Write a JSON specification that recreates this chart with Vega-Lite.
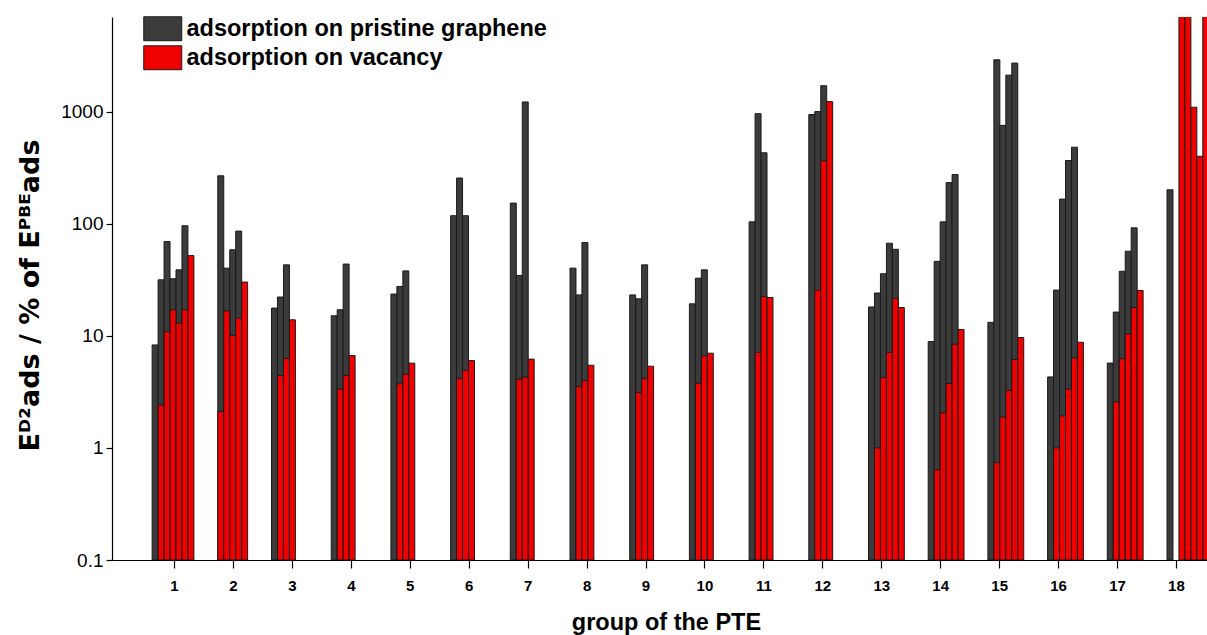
{
  "$schema": "https://vega.github.io/schema/vega-lite/v6.json",
  "width": 1095,
  "height": 543,
  "autosize": {"type": "none"},
  "padding": {"left": 112, "top": 17, "right": 0, "bottom": 75},
  "background": "white",
  "config": {"view": {"stroke": null}, "font": "Liberation Sans"},
  "data": {"values": [
    {"group": 1, "slot": 0, "series": "pristine", "value": 8.3},
    {"group": 1, "slot": 1, "series": "pristine", "value": 31.6},
    {"group": 1, "slot": 2, "series": "pristine", "value": 69.5},
    {"group": 1, "slot": 3, "series": "pristine", "value": 32.3},
    {"group": 1, "slot": 4, "series": "pristine", "value": 38.8},
    {"group": 1, "slot": 5, "series": "pristine", "value": 96},
    {"group": 1, "slot": 1, "series": "vacancy", "value": 2.42},
    {"group": 1, "slot": 2, "series": "vacancy", "value": 10.9},
    {"group": 1, "slot": 3, "series": "vacancy", "value": 17.1},
    {"group": 1, "slot": 4, "series": "vacancy", "value": 13.0},
    {"group": 1, "slot": 5, "series": "vacancy", "value": 17.1},
    {"group": 1, "slot": 6, "series": "vacancy", "value": 52},
    {"group": 2, "slot": 1, "series": "pristine", "value": 268},
    {"group": 2, "slot": 2, "series": "pristine", "value": 40.2},
    {"group": 2, "slot": 3, "series": "pristine", "value": 58.6},
    {"group": 2, "slot": 4, "series": "pristine", "value": 86},
    {"group": 2, "slot": 1, "series": "vacancy", "value": 2.11},
    {"group": 2, "slot": 2, "series": "vacancy", "value": 16.7},
    {"group": 2, "slot": 3, "series": "vacancy", "value": 10.1},
    {"group": 2, "slot": 4, "series": "vacancy", "value": 14.4},
    {"group": 2, "slot": 5, "series": "vacancy", "value": 30.2},
    {"group": 3, "slot": 0, "series": "pristine", "value": 17.7},
    {"group": 3, "slot": 1, "series": "pristine", "value": 22.2},
    {"group": 3, "slot": 2, "series": "pristine", "value": 43},
    {"group": 3, "slot": 1, "series": "vacancy", "value": 4.42},
    {"group": 3, "slot": 2, "series": "vacancy", "value": 6.3},
    {"group": 3, "slot": 3, "series": "vacancy", "value": 13.9},
    {"group": 4, "slot": 0, "series": "pristine", "value": 15.1},
    {"group": 4, "slot": 1, "series": "pristine", "value": 17.1},
    {"group": 4, "slot": 2, "series": "pristine", "value": 43.7},
    {"group": 4, "slot": 1, "series": "vacancy", "value": 3.36},
    {"group": 4, "slot": 2, "series": "vacancy", "value": 4.42},
    {"group": 4, "slot": 3, "series": "vacancy", "value": 6.67},
    {"group": 5, "slot": 0, "series": "pristine", "value": 23.6},
    {"group": 5, "slot": 1, "series": "pristine", "value": 27.6},
    {"group": 5, "slot": 2, "series": "pristine", "value": 38.0},
    {"group": 5, "slot": 1, "series": "vacancy", "value": 3.73},
    {"group": 5, "slot": 2, "series": "vacancy", "value": 4.55},
    {"group": 5, "slot": 3, "series": "vacancy", "value": 5.71},
    {"group": 6, "slot": 0, "series": "pristine", "value": 118},
    {"group": 6, "slot": 1, "series": "pristine", "value": 256},
    {"group": 6, "slot": 2, "series": "pristine", "value": 118},
    {"group": 6, "slot": 1, "series": "vacancy", "value": 4.16},
    {"group": 6, "slot": 2, "series": "vacancy", "value": 4.94},
    {"group": 6, "slot": 3, "series": "vacancy", "value": 6.02},
    {"group": 7, "slot": 0, "series": "pristine", "value": 153},
    {"group": 7, "slot": 1, "series": "pristine", "value": 34.6},
    {"group": 7, "slot": 2, "series": "pristine", "value": 1222},
    {"group": 7, "slot": 1, "series": "vacancy", "value": 4.1},
    {"group": 7, "slot": 2, "series": "vacancy", "value": 4.28},
    {"group": 7, "slot": 3, "series": "vacancy", "value": 6.2},
    {"group": 8, "slot": 0, "series": "pristine", "value": 40.2},
    {"group": 8, "slot": 1, "series": "pristine", "value": 23.2},
    {"group": 8, "slot": 2, "series": "pristine", "value": 68.1},
    {"group": 8, "slot": 1, "series": "vacancy", "value": 3.53},
    {"group": 8, "slot": 2, "series": "vacancy", "value": 3.99},
    {"group": 8, "slot": 3, "series": "vacancy", "value": 5.47},
    {"group": 9, "slot": 0, "series": "pristine", "value": 23.2},
    {"group": 9, "slot": 1, "series": "pristine", "value": 21.4},
    {"group": 9, "slot": 2, "series": "pristine", "value": 43},
    {"group": 9, "slot": 1, "series": "vacancy", "value": 3.12},
    {"group": 9, "slot": 2, "series": "vacancy", "value": 4.16},
    {"group": 9, "slot": 3, "series": "vacancy", "value": 5.36},
    {"group": 10, "slot": 0, "series": "pristine", "value": 19.3},
    {"group": 10, "slot": 1, "series": "pristine", "value": 32.7},
    {"group": 10, "slot": 2, "series": "pristine", "value": 38.8},
    {"group": 10, "slot": 1, "series": "vacancy", "value": 3.78},
    {"group": 10, "slot": 2, "series": "vacancy", "value": 6.63},
    {"group": 10, "slot": 3, "series": "vacancy", "value": 7.0},
    {"group": 11, "slot": 0, "series": "pristine", "value": 104},
    {"group": 11, "slot": 1, "series": "pristine", "value": 960},
    {"group": 11, "slot": 2, "series": "pristine", "value": 430},
    {"group": 11, "slot": 1, "series": "vacancy", "value": 7.11},
    {"group": 11, "slot": 2, "series": "vacancy", "value": 22.4},
    {"group": 11, "slot": 3, "series": "vacancy", "value": 22.0},
    {"group": 12, "slot": 0, "series": "pristine", "value": 944},
    {"group": 12, "slot": 1, "series": "pristine", "value": 1003},
    {"group": 12, "slot": 2, "series": "pristine", "value": 1706},
    {"group": 12, "slot": 1, "series": "vacancy", "value": 25.6},
    {"group": 12, "slot": 2, "series": "vacancy", "value": 365},
    {"group": 12, "slot": 3, "series": "vacancy", "value": 1230},
    {"group": 13, "slot": 0, "series": "pristine", "value": 18.1},
    {"group": 13, "slot": 1, "series": "pristine", "value": 24.1},
    {"group": 13, "slot": 2, "series": "pristine", "value": 35.8},
    {"group": 13, "slot": 3, "series": "pristine", "value": 67.1},
    {"group": 13, "slot": 4, "series": "pristine", "value": 59.2},
    {"group": 13, "slot": 1, "series": "vacancy", "value": 1.0},
    {"group": 13, "slot": 2, "series": "vacancy", "value": 4.24},
    {"group": 13, "slot": 3, "series": "vacancy", "value": 7.11},
    {"group": 13, "slot": 4, "series": "vacancy", "value": 21.5},
    {"group": 13, "slot": 5, "series": "vacancy", "value": 17.9},
    {"group": 14, "slot": 0, "series": "pristine", "value": 8.9},
    {"group": 14, "slot": 1, "series": "pristine", "value": 46.2},
    {"group": 14, "slot": 2, "series": "pristine", "value": 104},
    {"group": 14, "slot": 3, "series": "pristine", "value": 233},
    {"group": 14, "slot": 4, "series": "pristine", "value": 275},
    {"group": 14, "slot": 1, "series": "vacancy", "value": 0.64},
    {"group": 14, "slot": 2, "series": "vacancy", "value": 2.06},
    {"group": 14, "slot": 3, "series": "vacancy", "value": 3.76},
    {"group": 14, "slot": 4, "series": "vacancy", "value": 8.43},
    {"group": 14, "slot": 5, "series": "vacancy", "value": 11.4},
    {"group": 15, "slot": 0, "series": "pristine", "value": 13.2},
    {"group": 15, "slot": 1, "series": "pristine", "value": 2905},
    {"group": 15, "slot": 2, "series": "pristine", "value": 755},
    {"group": 15, "slot": 3, "series": "pristine", "value": 2120},
    {"group": 15, "slot": 4, "series": "pristine", "value": 2716},
    {"group": 15, "slot": 1, "series": "vacancy", "value": 0.74},
    {"group": 15, "slot": 2, "series": "vacancy", "value": 1.89},
    {"group": 15, "slot": 3, "series": "vacancy", "value": 3.26},
    {"group": 15, "slot": 4, "series": "vacancy", "value": 6.15},
    {"group": 15, "slot": 5, "series": "vacancy", "value": 9.66},
    {"group": 16, "slot": 0, "series": "pristine", "value": 4.3},
    {"group": 16, "slot": 1, "series": "pristine", "value": 25.6},
    {"group": 16, "slot": 2, "series": "pristine", "value": 166},
    {"group": 16, "slot": 3, "series": "pristine", "value": 367},
    {"group": 16, "slot": 4, "series": "pristine", "value": 482},
    {"group": 16, "slot": 1, "series": "vacancy", "value": 1.0},
    {"group": 16, "slot": 2, "series": "vacancy", "value": 1.93},
    {"group": 16, "slot": 3, "series": "vacancy", "value": 3.36},
    {"group": 16, "slot": 4, "series": "vacancy", "value": 6.35},
    {"group": 16, "slot": 5, "series": "vacancy", "value": 8.77},
    {"group": 17, "slot": 0, "series": "pristine", "value": 5.72},
    {"group": 17, "slot": 1, "series": "pristine", "value": 16.3},
    {"group": 17, "slot": 2, "series": "pristine", "value": 37.7},
    {"group": 17, "slot": 3, "series": "pristine", "value": 56.9},
    {"group": 17, "slot": 4, "series": "pristine", "value": 92},
    {"group": 17, "slot": 1, "series": "vacancy", "value": 2.58},
    {"group": 17, "slot": 2, "series": "vacancy", "value": 6.26},
    {"group": 17, "slot": 3, "series": "vacancy", "value": 10.4},
    {"group": 17, "slot": 4, "series": "vacancy", "value": 17.9},
    {"group": 17, "slot": 5, "series": "vacancy", "value": 25.4},
    {"group": 18, "slot": 0, "series": "pristine", "value": 201},
    {"group": 18, "slot": 2, "series": "vacancy", "value": 9000},
    {"group": 18, "slot": 3, "series": "vacancy", "value": 9000},
    {"group": 18, "slot": 4, "series": "vacancy", "value": 1097},
    {"group": 18, "slot": 5, "series": "vacancy", "value": 400},
    {"group": 18, "slot": 6, "series": "vacancy", "value": 9000}
  ]},
  "transform": [
    {"calculate": "datum.group + (datum.slot - 3) * 0.1 - 0.05", "as": "xa"},
    {"calculate": "datum.xa + 0.1", "as": "xb"}
  ],
  "encoding": {
    "x": {
      "field": "xa", "type": "quantitative",
      "scale": {"domain": [-0.022, 18.32], "nice": false, "zero": false},
      "axis": {
        "values": [1.0165, 2.0038, 2.991, 3.9783, 4.9656, 5.9529, 6.9401, 7.9274, 8.9147, 9.902, 10.8892, 11.8765, 12.8638, 13.851, 14.8383, 15.8256, 16.8129, 17.8001],
        "labelExpr": "format(round(datum.value), 'd')",
        "grid": false,
        "domainColor": "#000000",
        "domainWidth": 1.2,
        "tickColor": "#000000",
        "tickSize": 8,
        "tickWidth": 1.2,
        "labelPadding": 10,
        "labelFontSize": 15,
        "labelFontWeight": "bold",
        "labelColor": "#000000",
        "labelFont": "Liberation Sans",
        "title": "group of the PTE",
        "titleFont": "Liberation Sans",
        "titleFontSize": 23.5,
        "titleFontWeight": "bold",
        "titleColor": "#000000",
        "titleX": 554,
        "titleY": 69,
        "titleBaseline": "alphabetic"
      }
    },
    "x2": {"field": "xb"},
    "y": {
      "field": "value", "type": "quantitative",
      "scale": {"type": "log", "domain": [0.1, 7000], "nice": false},
      "axis": {
        "values": [0.1, 1, 10, 100, 1000],
        "format": "~g",
        "grid": false,
        "domainColor": "#000000",
        "domainWidth": 1.2,
        "tickColor": "#000000",
        "tickSize": 6,
        "tickWidth": 1.2,
        "labelPadding": 3,
        "labelFontSize": 19,
        "labelColor": "#000000",
        "labelFont": "Liberation Sans",
        "title": "Eᴰ²ads / % of Eᴾᴮᴱads",
        "titleFont": "DejaVu Sans",
        "titleFontSize": 27,
        "titleFontWeight": "bold",
        "titleColor": "#000000",
        "titleX": -82,
        "titleY": 278,
        "titleAngle": 270,
        "titleAlign": "center",
        "titleBaseline": "middle"
      }
    },
    "y2": {"datum": 0.1},
    "color": {
      "field": "series", "type": "nominal",
      "scale": {"domain": ["pristine", "vacancy"], "range": ["#3b3b3b", "#f00000"]},
      "legend": {
        "orient": "none",
        "legendX": 39,
        "legendY": 0,
        "title": null,
        "padding": 0,
        "symbolType": "M-2,-1.26H2V1.26H-2Z",
        "symbolSize": 361,
        "symbolStrokeColor": "#1a1a1a",
        "symbolStrokeWidth": 1,
        "symbolOpacity": 1,
        "labelOffset": 12,
        "rowPadding": 0,
        "labelLimit": 0,
        "labelFont": "Liberation Sans",
        "labelFontSize": 23.5,
        "labelFontWeight": "bold",
        "labelColor": "#000000",
        "labelExpr": "datum.label == 'pristine' ? 'adsorption on pristine graphene' : 'adsorption on vacancy'"
      }
    }
  },
  "layer": [
    {
      "transform": [{"filter": "datum.series == 'pristine'"}],
      "mark": {"type": "bar", "clip": true, "stroke": "#1a1a1a", "strokeWidth": 1, "opacity": 1}
    },
    {
      "transform": [{"filter": "datum.series == 'vacancy'"}],
      "mark": {"type": "bar", "clip": true, "stroke": "#1a1a1a", "strokeWidth": 1, "opacity": 1}
    }
  ]
}
